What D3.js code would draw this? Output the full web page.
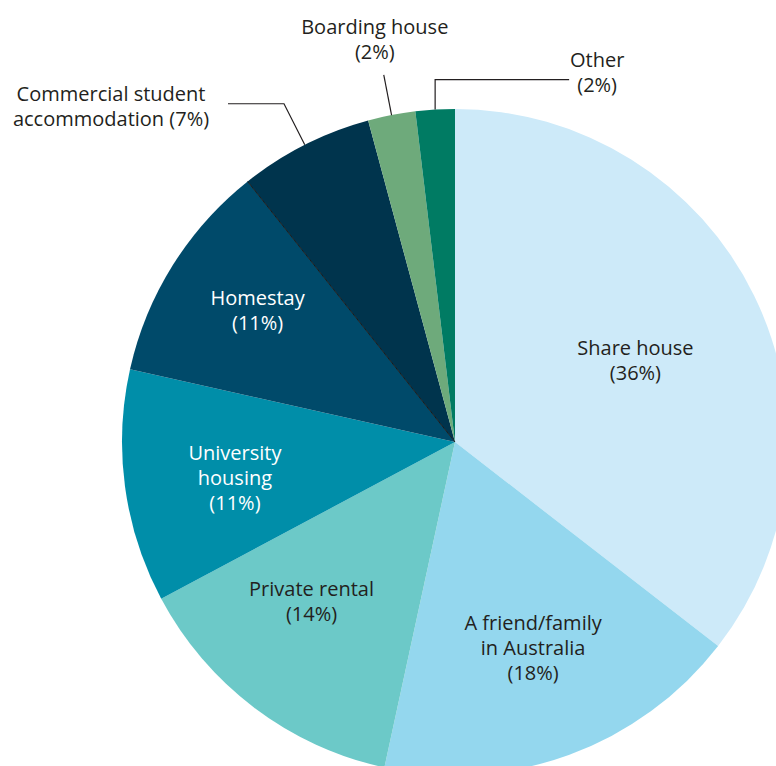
<!DOCTYPE html>
<html>
<head>
<meta charset="utf-8">
<script src="https://cdn.jsdelivr.net/npm/d3@7"></script>
<style>
  body { margin: 0; background: #fff; }
  svg { display: block; }
  text { font-family: "Open Sans", "Noto Sans", sans-serif; font-size: 20px; }
</style>
</head>
<body>
<script>
// accommodation types, clockwise from 12 o'clock
const categories = [
  "Share house",
  "A friend/family in Australia",
  "Private rental",
  "University housing",
  "Homestay",
  "Commercial student accommodation",
  "Boarding house",
  "Other",
];
const shares = [35.5, 17.9, 13.8, 11.3, 10.8, 6.5, 2.3, 1.9];
const labels = ["36%", "18%", "14%", "11%", "11%", "7%", "2%", "2%"];
const labelLines = [
  ["Share house"],
  ["A friend/family", "in Australia"],
  ["Private rental"],
  ["University", "housing"],
  ["Homestay"],
  ["Commercial student", "accommodation"],
  ["Boarding house"],
  ["Other"],
];

const colors = [
  "#cdeaf9", "#94d7ee", "#6cc9c8", "#008ea9",
  "#004a6a", "#00344d", "#6eaa7b", "#007b63",
];

const width = 776;
const height = 766;
const cx = 455;
const cy = 442;
const R = 333;

const svg = d3
  .select("body")
  .append("svg")
  .attr("width", width)
  .attr("height", height);

const g = svg.append("g").attr("transform", `translate(${cx},${cy})`);

const data = categories.map((c, i) => ({
  name: c,
  value: shares[i],
  pct: labels[i],
  lines: labelLines[i],
  color: colors[i],
}));

const pie = d3.pie().value((d) => d.value).sort(null);
const arcs = pie(data);
const arc = d3.arc().innerRadius(0).outerRadius(R);

g.selectAll("path")
  .data(arcs)
  .join("path")
  .attr("d", arc)
  .attr("fill", (d) => d.data.color);

// thin dark divider between homestay and commercial
const polar = (a, r) => [Math.sin(a) * r, -Math.cos(a) * r];
const div = polar(arcs[5].startAngle, R);
g.append("line")
  .attr("x1", 0).attr("y1", 0)
  .attr("x2", div[0]).attr("y2", div[1])
  .attr("stroke", "#1b1b1b")
  .attr("stroke-width", 1);

// inside labels: radius as a fraction of R, plus small nudges
const inside = {
  0: { r: 0.6, dx: 1, dy: 6 },
  1: { r: 0.66, dx: 3, dy: -1 },
  2: { r: 0.65, dx: -13, dy: -13 },
  3: { r: 0.67, dx: 1, dy: 6 },
  4: { r: 0.71, dx: 3, dy: -6 },
};
const lineH = 25;
const dark = "#231f20";

arcs.forEach((d, i) => {
  const o = inside[i];
  if (!o) return;
  const mid = (d.startAngle + d.endAngle) / 2;
  const [x, y] = polar(mid, R * o.r);
  const rows = d.data.lines.concat([`(${d.data.pct})`]);
  const t = g.append("text")
    .attr("text-anchor", "middle")
    .attr("fill", i === 3 || i === 4 ? "#fff" : dark);
  rows.forEach((r, k) => {
    t.append("tspan")
      .attr("x", x + o.dx)
      .attr("y", y + o.dy + (k - (rows.length - 1) / 2) * lineH + 7)
      .text(r);
  });
});

// outside labels with leader lines
const lead = g.append("g")
  .attr("fill", "none")
  .attr("stroke", "#231f20")
  .attr("stroke-width", 1.2);

function midOf(i) {
  return (arcs[i].startAngle + arcs[i].endAngle) / 2;
}

// commercial student accommodation
{
  const a = midOf(5);
  const p0 = polar(a, R);
  const p1 = polar(a, R + 46);
  const p2 = [p1[0] - 56, p1[1]];
  lead.append("polyline").attr("points", [p0, p1, p2].map((p) => p.join(",")).join(" "));
  const t = g.append("text").attr("text-anchor", "middle").attr("fill", dark);
  t.append("tspan").attr("x", p2[0] - 117).attr("y", p2[1] - 3).text(arcs[5].data.lines[0]);
  t.append("tspan").attr("x", p2[0] - 117).attr("y", p2[1] + 22)
    .text(`${arcs[5].data.lines[1]} (${arcs[5].data.pct})`);
}

// boarding house
{
  const a = midOf(6);
  const p0 = polar(a, R);
  const p1 = polar(a, R + 41);
  lead.append("polyline").attr("points", [p0, p1].map((p) => p.join(",")).join(" "));
  const t = g.append("text").attr("text-anchor", "middle").attr("fill", dark);
  t.append("tspan").attr("x", p1[0] - 9).attr("y", p1[1] - 41).text(arcs[6].data.lines[0]);
  t.append("tspan").attr("x", p1[0] - 9).attr("y", p1[1] - 16).text(`(${arcs[6].data.pct})`);
}

// other
{
  const a = midOf(7);
  const p0 = polar(a, R);
  const p1 = [p0[0], p0[1] - 30];
  const p2 = [p1[0] + 134, p1[1]];
  lead.append("polyline").attr("points", [p0, p1, p2].map((p) => p.join(",")).join(" "));
  const t = g.append("text").attr("text-anchor", "middle").attr("fill", dark);
  t.append("tspan").attr("x", p2[0] + 28).attr("y", p2[1] - 13).text(arcs[7].data.lines[0]);
  t.append("tspan").attr("x", p2[0] + 28).attr("y", p2[1] + 12).text(`(${arcs[7].data.pct})`);
}
</script>
</body>
</html>
